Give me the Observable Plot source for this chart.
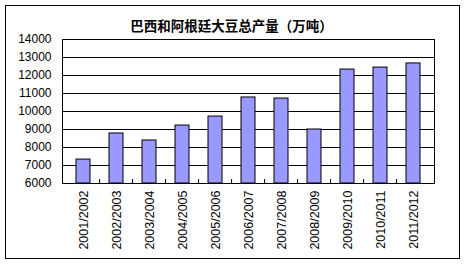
<!DOCTYPE html>
<html>
<head>
<meta charset="utf-8">
<script src="https://cdn.jsdelivr.net/npm/d3@7"></script>
<script src="https://cdn.jsdelivr.net/npm/@observablehq/plot@0.6"></script>
<style>
  html, body { margin: 0; padding: 0; background: #fff; }
  #wrap { position: relative; width: 466px; height: 264px; }
  #border { position: absolute; left: 5px; top: 5px; width: 453px; height: 252px; border: 1px solid #000; pointer-events: none; }
  #chart { position: absolute; left: 0; top: 0; }
</style>
</head>
<body>
<div id="wrap"><div id="chart"></div><div id="border"></div></div>
<script>
const title = "巴西和阿根廷大豆总产量（万吨）";
const seasons = ["2001/2002","2002/2003","2003/2004","2004/2005","2005/2006","2006/2007","2007/2008","2008/2009","2009/2010","2010/2011","2011/2012"];
const production = [7330, 8780, 8390, 9220, 9720, 10780, 10720, 9000, 12330, 12440, 12670];
const yTicks = [6000, 7000, 8000, 9000, 10000, 11000, 12000, 13000, 14000];

const data = seasons.map((s, i) => ({season: s, value: production[i]}));

const W = 466, H = 264, mL = 62, mR = 32, mT = 39, mB = 81;
const step = (W - mL - mR) / seasons.length;

const chart = Plot.plot({
  width: W,
  height: H,
  marginLeft: mL,
  marginRight: mR,
  marginTop: mT,
  marginBottom: mB,
  style: {fontFamily: "Liberation Sans, Arial, sans-serif", fontSize: "12px", color: "#000", background: "#fff"},
  x: {domain: seasons, paddingInner: 0.58, paddingOuter: 0.29, label: null},
  y: {domain: [6000, 14000], label: null},
  marks: [
    Plot.gridY(yTicks, {stroke: "#000", strokeOpacity: 1, strokeWidth: 1}),
    Plot.barY(data, {x: "season", y1: 6000, y2: "value", fill: "#9999ff", stroke: "#000", strokeWidth: 1}),
    Plot.ruleX(seasons.slice(1), {x: d => d, dx: -step / 2, insetTop: H - mT - mB - 4, stroke: "#000", strokeWidth: 1}),
    Plot.frame({stroke: "#000", strokeWidth: 1}),
    Plot.axisY(yTicks, {tickSize: 0, tickPadding: 11, fontSize: 12, label: null, tickFormat: d => String(d)}),
    Plot.axisX({tickSize: 0, tickPadding: 7, tickRotate: -90, fontSize: 12.5, label: null}),
    Plot.text([title], {frameAnchor: "top", dx: -17, dy: -18, fontFamily: "Noto Sans CJK SC", fontWeight: "bold", fontSize: 13.5, fill: "#000"})
  ]
});
document.getElementById("chart").appendChild(chart);
</script>
</body>
</html>
